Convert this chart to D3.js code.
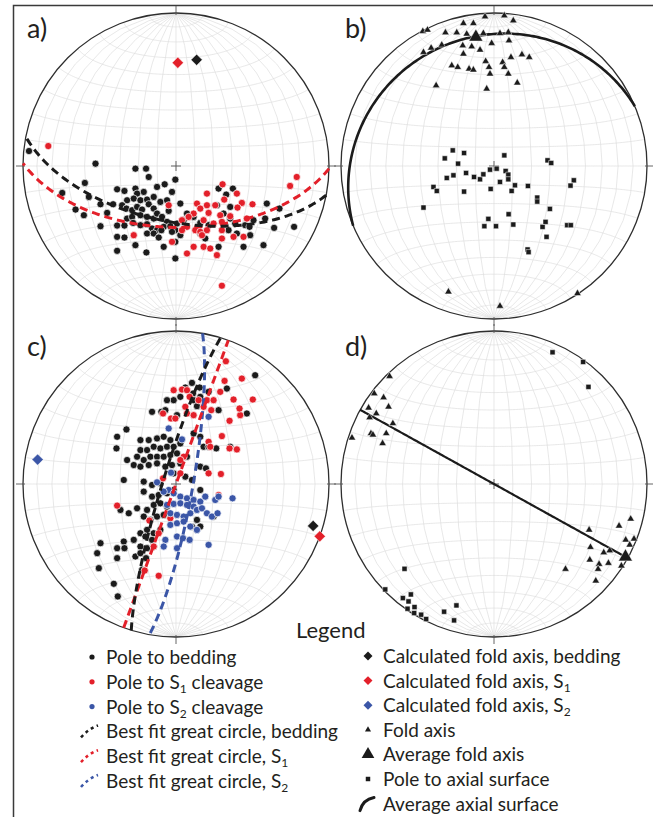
<!DOCTYPE html>
<html>
<head>
<meta charset="utf-8">
<script src="https://cdn.jsdelivr.net/npm/d3@7"></script>
<style>
body { margin: 0; background: #fff; }
svg { display: block; }
text { font-family: Lato, "Open Sans", sans-serif; fill: #231f20; }
</style>
</head>
<body>
<svg id="fig" width="653" height="817"></svg>
<script>
// digitised net coordinates: x east, y north, primitive radius = 460 units
var aBedding = [[-442,45],[-242,7],[-122,-8],[-90,-8],[-82,-33],[-274,-51],[-342,-81],[-262,-93],[-177,-70],[-155,-75],
  [-122,-68],[-97,-78],[-117,-83],[-57,-63],[-34,-55],[-2,-41],[-227,-115],[-189,-115],[-147,-103],[-127,-98],
  [-107,-103],[-87,-101],[-67,-93],[-302,-131],[-277,-148],[-207,-141],[-162,-118],[-149,-128],[-132,-133],[-117,-123],
  [-102,-131],[-82,-115],[-67,-128],[-47,-108],[-27,-103],[-12,-78],[13,-113],[-22,-135],[-147,-158],[-132,-153],
  [-107,-148],[-87,-153],[-67,-158],[-57,-143],[-42,-153],[-27,-168],[-227,-181],[-177,-179],[-155,-179],[-129,-171],
  [-107,-178],[-87,-175],[-72,-188],[-57,-193],[-37,-183],[-17,-181],[3,-173],[23,-163],[33,-143],[53,-153],
  [-2,-193],[73,-171],[98,-178],[113,-173],[128,-68],[151,-86],[171,-68],[123,-118],[143,-143],[163,-123],
  [163,-158],[178,-173],[158,-193],[183,-203],[208,-178],[221,-183],[233,-163],[268,-158],[273,-113],[311,-128],
  [295,-186],[355,-183],[-177,-213],[-155,-215],[-122,-238],[-89,-260],[-87,-203],[-67,-203],[-52,-215],[-37,-243],
  [-12,-198],[-2,-228],[13,-208],[-2,-278],[128,-243],[203,-243],[263,-238],[-177,-255],[-44,-193],[88,-218],
  [73,-203],[223,-208]];
var aS1 = [[-384,60],[140,-55],[93,-83],[183,-83],[198,-111],[230,-115],[145,-101],[63,-113],[93,-118],[118,-118],
  [73,-128],[-22,-118],[53,-143],[38,-153],[18,-163],[98,-141],[133,-148],[163,-151],[83,-163],[113,-173],
  [138,-168],[58,-193],[73,-198],[93,-193],[78,-208],[33,-183],[18,-193],[138,-193],[138,-218],[173,-213],
  [203,-213],[213,-158],[-127,-208],[-12,-228],[53,-243],[33,-263],[83,-243],[123,-268],[138,-360],[363,-33],
  [343,-60],[103,-248],[185,-125]];
var cBedding = [[238,327],[213,212],[48,304],[28,290],[71,290],[51,272],[-7,252],[-27,252],[-44,217],[-72,217],
  [-32,222],[13,262],[53,252],[73,262],[63,234],[98,277],[153,287],[128,222],[3,207],[-149,164],
  [-177,142],[-179,107],[-107,132],[-82,132],[-57,137],[-37,142],[-17,132],[-107,102],[-87,102],[-67,112],
  [-47,107],[-27,112],[-7,112],[13,122],[-147,72],[-117,82],[-97,72],[-77,82],[-57,82],[-37,82],
  [-17,87],[3,92],[-127,57],[-107,52],[-82,57],[-57,62],[-32,52],[-12,57],[13,62],[33,82],
  [53,152],[73,142],[83,112],[98,112],[121,107],[163,112],[-157,12],[-97,7],[-72,-3],[-47,2],
  [-7,32],[28,22],[48,12],[73,52],[90,47],[-97,-23],[-72,-38],[-52,-33],[-27,-28],[-7,-18],
  [73,-18],[-117,-73],[-87,-78],[-67,-63],[-47,-58],[-27,-68],[-167,-78],[-142,-88],[-97,-98],[-77,-108],
  [-57,-98],[-37,-93],[63,-108],[73,-128],[48,-128],[-87,-138],[-67,-148],[-47,-138],[-107,-148],[-92,-158],
  [-72,-168],[-127,-168],[-157,-173],[-177,-193],[-155,-193],[-107,-188],[-87,-193],[-67,-188],[-227,-178],[-237,-208],
  [-232,-253],[-177,-223],[-122,-218],[-107,-208],[-90,-223],[-187,-300],[-175,-338],[-102,-258],[113,-98]];
var cS1 = [[150,369],[146,310],[198,317],[231,254],[-7,282],[18,284],[33,282],[41,262],[68,252],[93,252],
  [113,252],[133,277],[173,254],[-39,212],[-15,197],[-2,197],[28,232],[33,212],[53,207],[83,232],
  [106,222],[161,190],[193,207],[191,227],[138,144],[98,127],[103,112],[161,107],[183,104],[23,82],
  [13,72],[13,32],[-39,17],[98,32],[135,30],[-177,-65],[-80,-110],[-17,-103],[-52,-148],[-67,-188],
  [-94,-260],[-52,-276],[128,-33]];
var cS2 = [[98,202],[-22,167],[18,134],[-15,34],[-57,5],[-22,-18],[-37,-23],[-7,-28],[13,-38],[33,-43],
  [53,-48],[73,-53],[88,-38],[118,-48],[128,-38],[170,-43],[-27,-63],[-7,-60],[13,-58],[33,-63],
  [53,-68],[-17,-88],[3,-93],[23,-98],[43,-88],[63,-78],[78,-73],[93,-88],[108,-98],[125,-88],
  [-17,-123],[3,-118],[23,-113],[43,-128],[63,-138],[-32,-168],[3,-158],[21,-163],[41,-168],[98,-183],
  [-37,-188],[3,-193]];
var bFoldAxes = [[-27,449],[31,452],[58,437],[-92,429],[-62,429],[-214,405],[-200,409],[-146,401],[-112,401],[-82,397],
  [-32,399],[18,399],[43,402],[-212,342],[-189,355],[-157,364],[-94,362],[-67,359],[-42,349],[-7,369],
  [45,377],[-92,337],[-25,315],[26,312],[51,327],[84,335],[106,327],[-127,302],[-109,297],[-75,292],
  [-62,289],[-15,297],[31,297],[43,277],[-12,277],[-174,242],[-22,232],[70,250],[-137,-378],[18,-421],
  [251,-383]];
var bAxialPoles = [[-124,47],[-90,39],[-148,23],[-108,7],[31,32],[-142,-36],[-122,-28],[-84,-21],[-60,-33],[-42,-40],
  [-32,-25],[-12,-11],[8,-8],[35,-15],[43,-26],[43,-40],[63,-58],[18,-48],[-10,-69],[-182,-63],
  [-172,-75],[-90,-77],[53,-75],[102,-60],[130,-95],[130,-107],[161,17],[172,9],[240,-43],[230,-59],
  [-212,-125],[168,-129],[-17,-159],[-29,-181],[6,-181],[44,-145],[58,-176],[146,-183],[155,-168],[158,-213],
  [220,-178],[231,-178],[101,-251],[104,-259]];
var dFoldAxes = [[-314,324],[-360,272],[-332,260],[-317,232],[-377,229],[-354,212],[-374,200],[-304,182],[-427,139],[-370,152],
  [-364,148],[-324,152],[-335,122],[411,-105],[376,-126],[396,-168],[421,-165],[408,-183],[290,-190],[330,-206],
  [348,-200],[288,-228],[316,-241],[344,-238],[383,-246],[313,-256],[306,-291],[215,-256],[286,-138]];
var dAxialPoles = [[176,396],[268,367],[284,292],[-269,-255],[-327,-317],[-274,-343],[-250,-332],[-257,-353],[-260,-375],[-239,-370],
  [-240,-388],[-219,-393],[-204,-406],[-150,-384],[-113,-365],[-120,-410]];

// calculated fold axes (trend, plunge) = poles of the best-fit great circles
var aFoldBedding = [11, 30], aFoldS1 = [1, 33];
var cFoldBedding = [107, 7], cFoldS1 = [110, 0], cFoldS2 = [280, 9];
// average fold axis and pole of the average axial surface (trend, plunge)
var bAvgAxis = [352, 16], bAxialPole = [157, 74];
var dAvgAxis = [119, 2], dAxialPole = [209, 0];

var colBlack = '#1b1b1b', colRed = '#e3202a', colBlue = '#3b56a7';

var R = 153, UNIT = 460;
var svg = d3.select('#fig');

// outer frame (left and top edges only)
svg.append('path').attr('d', 'M13.5,817 V5.5 H653')
  .attr('fill', 'none').attr('stroke', '#3a3a3a').attr('stroke-width', 1.5);

function toLL(tp) { return [180 - tp[0], tp[1]]; }

function makeNet(cx, cy, label) {
  var g = svg.append('g');
  var gridProj = d3.geoAzimuthalEqualArea().scale(R / Math.SQRT2).translate([cx, cy]).clipAngle(90);
  var polar = d3.geoAzimuthalEqualArea().rotate([0, -90]).scale(R / Math.SQRT2)
    .translate([cx, cy]).clipAngle(90).precision(0.2);
  var grat = d3.geoGraticule().extent([[-180, -90], [180, 90]]).step([10, 10]).precision(1);
  g.append('path').datum(grat()).attr('d', d3.geoPath(gridProj))
    .attr('fill', 'none').attr('stroke', '#dedede').attr('stroke-width', 0.7);
  g.append('circle').attr('cx', cx).attr('cy', cy).attr('r', R)
    .attr('fill', 'none').attr('stroke', '#2e2e2e').attr('stroke-width', 1.3);
  // cardinal ticks and centre cross
  var tk = [[0, -1], [1, 0], [0, 1], [-1, 0]];
  tk.forEach(function(t) {
    g.append('line').attr('x1', cx + t[0] * (R - 2)).attr('y1', cy + t[1] * (R - 2))
      .attr('x2', cx + t[0] * (R + 7)).attr('y2', cy + t[1] * (R + 7))
      .attr('stroke', '#555').attr('stroke-width', 0.9);
  });
  g.append('path').attr('d', 'M' + (cx - 5) + ',' + cy + 'h10M' + cx + ',' + (cy - 5) + 'v10')
    .attr('stroke', '#555').attr('stroke-width', 0.9);
  g.append('text').attr('x', cx - 149).attr('y', cy - 128).attr('font-size', 27).text(label);
  var x = d3.scaleLinear().domain([-UNIT, UNIT]).range([cx - R, cx + R]);
  var y = d3.scaleLinear().domain([-UNIT, UNIT]).range([cy + R, cy - R]);
  return { g: g, polar: polar, x: x, y: y, path: d3.geoPath(polar) };
}

function dots(net, data, color) {
  net.g.append('g').selectAll('circle').data(data).enter().append('circle')
    .attr('cx', function(d) { return net.x(d[0]); })
    .attr('cy', function(d) { return net.y(d[1]); })
    .attr('r', 3.6).attr('fill', color).attr('stroke', '#fff').attr('stroke-width', 0.7);
}

function symbols(net, data, type, size, rot) {
  net.g.append('g').selectAll('path').data(data).enter().append('path')
    .attr('d', d3.symbol().type(type).size(size))
    .attr('transform', function(d) {
      return 'translate(' + net.x(d[0]) + ',' + net.y(d[1]) + ')' + (rot ? ' rotate(' + rot + ')' : '');
    })
    .attr('fill', colBlack).attr('stroke', '#fff').attr('stroke-width', 0.5);
}

function greatCircle(net, pole, color, width, dash) {
  var ring = d3.geoCircle().center(toLL(pole)).radius(90).precision(1)().coordinates[0];
  net.g.append('path').datum({ type: 'LineString', coordinates: ring })
    .attr('d', net.path).attr('fill', 'none').attr('stroke', color)
    .attr('stroke-width', width).attr('stroke-dasharray', dash || null);
}

function axisMark(net, tp, type, size, color, rot) {
  var p = net.polar(toLL(tp));
  net.g.append('path').attr('d', d3.symbol().type(type).size(size)())
    .attr('transform', 'translate(' + p[0] + ',' + p[1] + ')' + (rot ? ' rotate(' + rot + ')' : ''))
    .attr('fill', color).attr('stroke', '#fff').attr('stroke-width', 0.5);
}

// a) bedding and S1
var na = makeNet(176, 166, 'a)');
dots(na, aBedding, colBlack);
dots(na, aS1, colRed);
greatCircle(na, aFoldS1, colRed, 3, '8,5');
greatCircle(na, aFoldBedding, colBlack, 3, '8,5');
axisMark(na, aFoldS1, d3.symbolSquare, 64, colRed, 45);
axisMark(na, aFoldBedding, d3.symbolSquare, 64, colBlack, 45);

// b) fold axes and axial surfaces
var nb = makeNet(494, 166, 'b)');
greatCircle(nb, bAxialPole, '#1b1b1b', 2.6);
symbols(nb, bFoldAxes, d3.symbolTriangle, 24);
symbols(nb, bAxialPoles, d3.symbolSquare, 26);
axisMark(nb, bAvgAxis, d3.symbolTriangle, 85, colBlack);

// c) bedding, S1 and S2
var nc = makeNet(176, 484, 'c)');
dots(nc, cBedding, colBlack);
dots(nc, cS1, colRed);
dots(nc, cS2, colBlue);
greatCircle(nc, cFoldS2, colBlue, 3, '8,5');
greatCircle(nc, cFoldS1, colRed, 3, '8,5');
greatCircle(nc, cFoldBedding, colBlack, 3, '8,5');
axisMark(nc, cFoldS2, d3.symbolSquare, 64, colBlue, 45);
axisMark(nc, cFoldBedding, d3.symbolSquare, 64, colBlack, 45);
axisMark(nc, cFoldS1, d3.symbolSquare, 64, colRed, 45);

// d) fold axes and axial surfaces
var nd = makeNet(494, 484, 'd)');
greatCircle(nd, dAxialPole, '#1b1b1b', 2.2);
symbols(nd, dFoldAxes, d3.symbolTriangle, 24);
symbols(nd, dAxialPoles, d3.symbolSquare, 26);
axisMark(nd, dAvgAxis, d3.symbolTriangle, 85, colBlack);

// legend
svg.append('text').attr('x', 296).attr('y', 638).attr('font-size', 22).text('Legend');

var leftItems = [
  { kind: 'dot', color: colBlack, text: ['Pole to bedding'] },
  { kind: 'dot', color: colRed, text: ['Pole to S', '1', ' cleavage'] },
  { kind: 'dot', color: colBlue, text: ['Pole to S', '2', ' cleavage'] },
  { kind: 'gc', color: colBlack, text: ['Best fit great circle, bedding'] },
  { kind: 'gc', color: colRed, text: ['Best fit great circle, S', '1'] },
  { kind: 'gc', color: colBlue, text: ['Best fit great circle, S', '2'] }
];
var rightItems = [
  { kind: 'diamond', color: colBlack, text: ['Calculated fold axis, bedding'] },
  { kind: 'diamond', color: colRed, text: ['Calculated fold axis, S', '1'] },
  { kind: 'diamond', color: colBlue, text: ['Calculated fold axis, S', '2'] },
  { kind: 'tri', color: colBlack, text: ['Fold axis'] },
  { kind: 'bigtri', color: colBlack, text: ['Average fold axis'] },
  { kind: 'square', color: colBlack, text: ['Pole to axial surface'] },
  { kind: 'arc', color: colBlack, text: ['Average axial surface'] }
];

function legendColumn(items, mx, tx, y0, dy) {
  items.forEach(function(it, i) {
    var cy = y0 + i * dy;
    var lg = svg.append('g');
    if (it.kind === 'dot') {
      lg.append('circle').attr('cx', mx).attr('cy', cy).attr('r', 2.6).attr('fill', it.color);
    } else if (it.kind === 'gc') {
      lg.append('path').attr('d', 'M' + (mx - 11) + ',' + (cy + 6) + 'Q' + (mx - 3) + ',' + (cy - 3) + ' ' + (mx + 6) + ',' + (cy - 6))
        .attr('fill', 'none').attr('stroke', it.color).attr('stroke-width', 2.6).attr('stroke-dasharray', '3,3.5');
    } else if (it.kind === 'diamond') {
      lg.append('path').attr('d', d3.symbol().type(d3.symbolSquare).size(40)())
        .attr('transform', 'translate(' + mx + ',' + cy + ') rotate(45)').attr('fill', it.color);
    } else if (it.kind === 'tri') {
      lg.append('path').attr('d', d3.symbol().type(d3.symbolTriangle).size(16)())
        .attr('transform', 'translate(' + mx + ',' + cy + ')').attr('fill', it.color);
    } else if (it.kind === 'bigtri') {
      lg.append('path').attr('d', d3.symbol().type(d3.symbolTriangle).size(70)())
        .attr('transform', 'translate(' + mx + ',' + cy + ')').attr('fill', it.color);
    } else if (it.kind === 'square') {
      lg.append('path').attr('d', d3.symbol().type(d3.symbolSquare).size(20)())
        .attr('transform', 'translate(' + mx + ',' + cy + ')').attr('fill', it.color);
    } else if (it.kind === 'arc') {
      lg.append('path').attr('d', 'M' + (mx - 8) + ',' + (cy + 7) + 'Q' + (mx - 5) + ',' + (cy - 4) + ' ' + (mx + 6) + ',' + (cy - 6))
        .attr('fill', 'none').attr('stroke', it.color).attr('stroke-width', 3).attr('stroke-linecap', 'round');
    }
    var t = lg.append('text').attr('x', tx).attr('y', cy + 7).attr('font-size', 19);
    t.append('tspan').text(it.text[0]);
    if (it.text.length > 1) {
      t.append('tspan').attr('font-size', 12).attr('dy', 4).text(it.text[1]);
      if (it.text[2]) t.append('tspan').attr('dy', -4).text(it.text[2]);
    }
  });
}
legendColumn(leftItems, 92, 106, 657, 24.8);
legendColumn(rightItems, 368, 383, 656, 24.6);
</script>
</body>
</html>
